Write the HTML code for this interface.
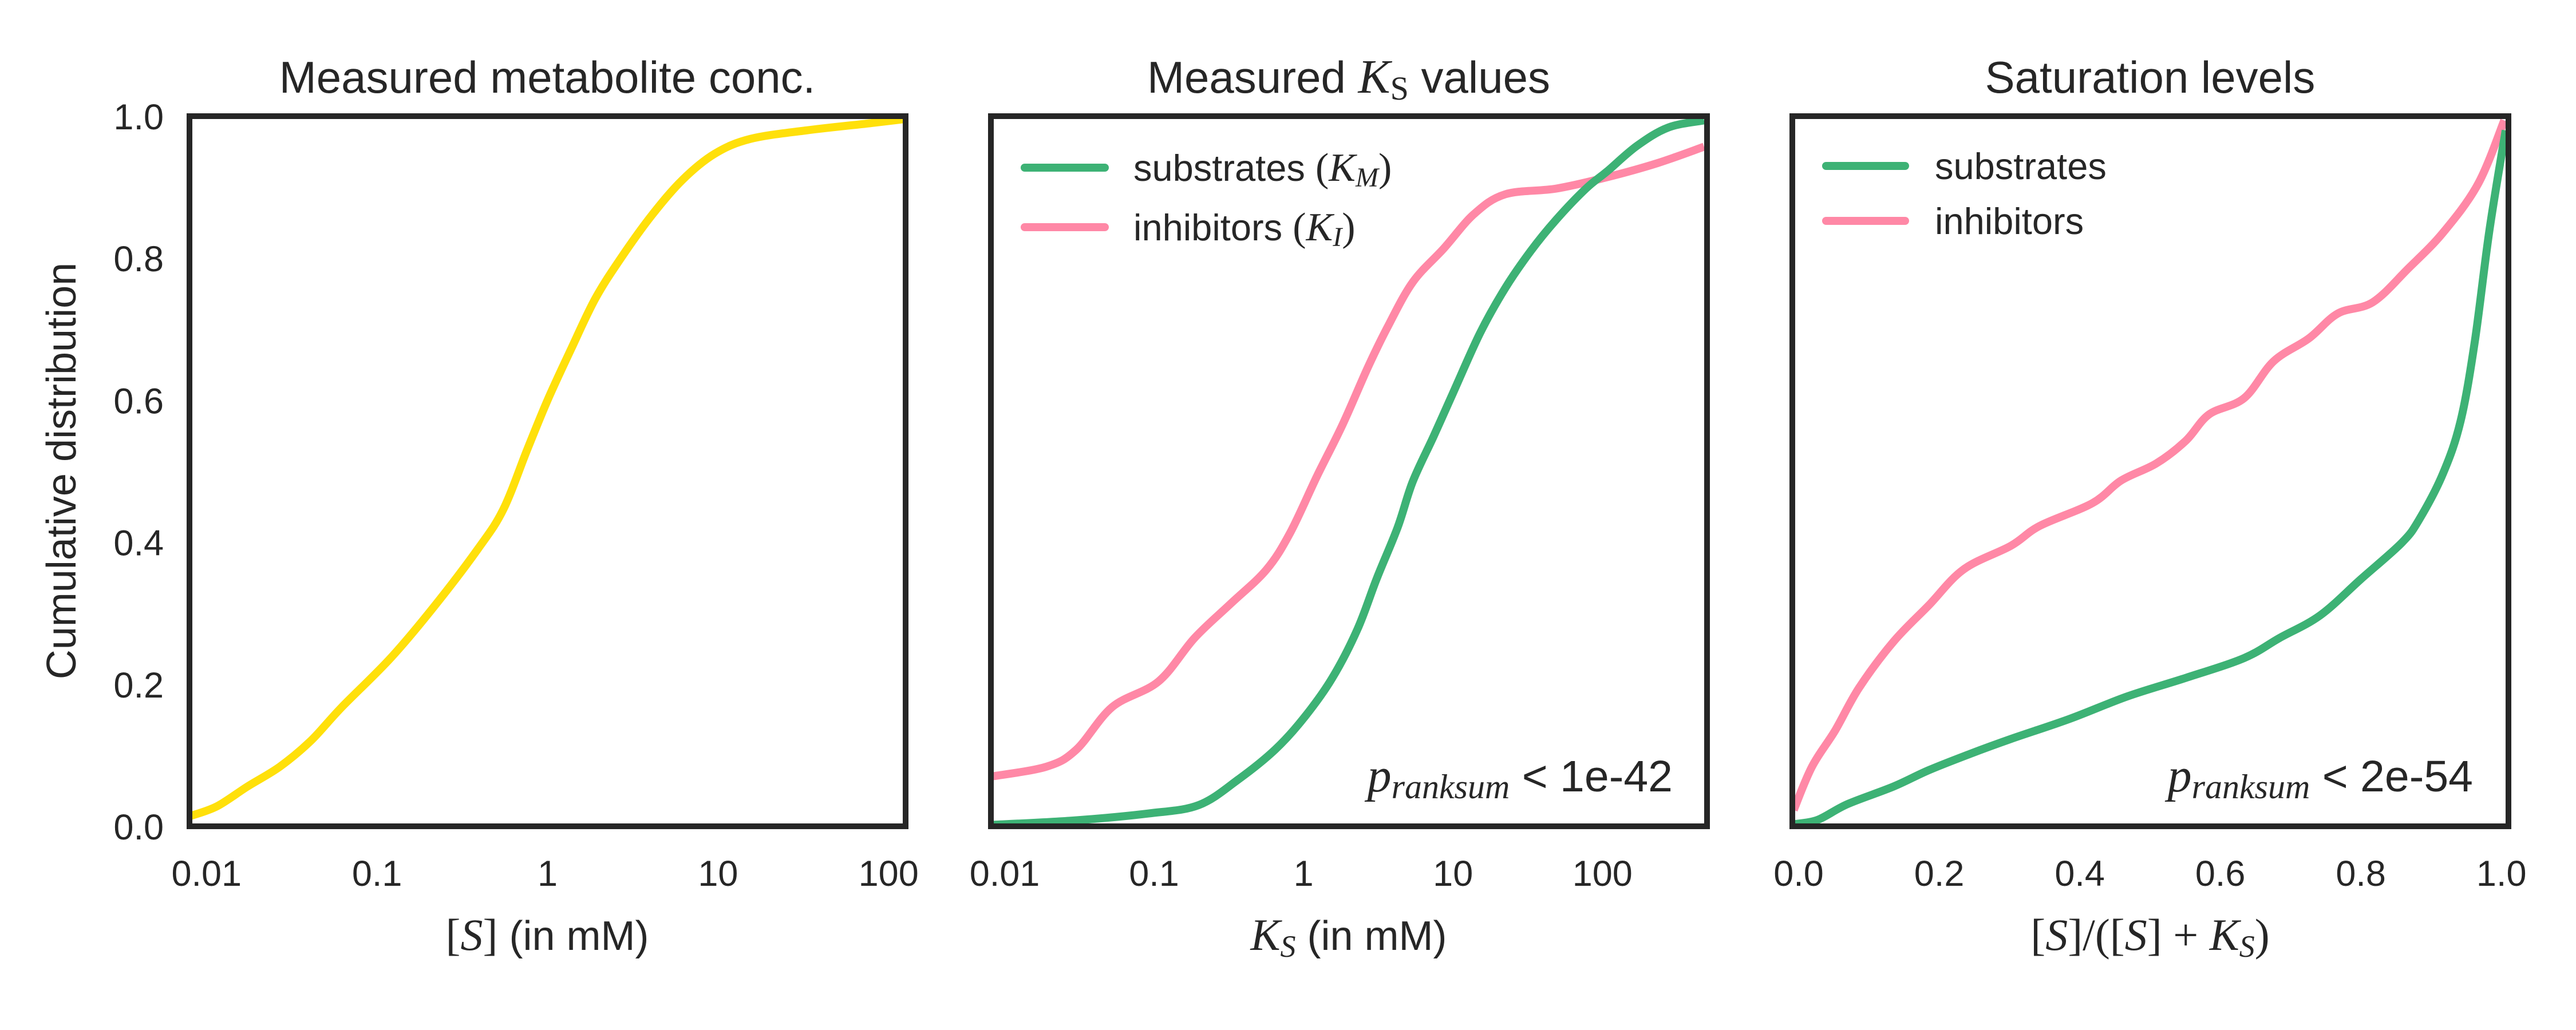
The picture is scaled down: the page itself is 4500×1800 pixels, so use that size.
<!DOCTYPE html>
<html><head><meta charset="utf-8"><style>
html,body{margin:0;padding:0;background:#fff}
svg{display:block}
text{font-family:"Liberation Sans",sans-serif;fill:#262626}
.m{font-family:"Liberation Serif",serif;font-style:italic}
.r{font-family:"Liberation Serif",serif;font-style:normal}
</style></head><body>
<svg id="c" width="4500" height="1800" viewBox="0 0 4500 1800"></svg>
<script>
// Panel 1: measured metabolite concentrations (log10 x, cumulative y)
const concLogX=[-2.1,-1.94,-1.76,-1.57,-1.39,-1.21,-0.92,-0.66,-0.41,-0.26,-0.12,0,0.14,0.28,0.43,0.61,0.79,0.98,1.19,1.52,1.89,2.1];
const concY=[0.014,0.028,0.056,0.084,0.12,0.167,0.237,0.311,0.39,0.446,0.53,0.60,0.673,0.743,0.80,0.86,0.91,0.947,0.968,0.98,0.99,0.996];
// Panel 2: K values
const kmLogX=[-2.09,-1.55,-1.04,-0.70,-0.43,-0.19,0,0.19,0.36,0.49,0.63,0.73,0.87,1.0,1.18,1.35,1.52,1.69,1.89,2.03,2.23,2.44,2.68];
const kmY=[0.002,0.008,0.018,0.03,0.067,0.108,0.152,0.208,0.277,0.349,0.421,0.485,0.549,0.61,0.694,0.758,0.81,0.854,0.898,0.922,0.958,0.984,0.994];
const kiLogX=[-2.09,-1.72,-1.52,-1.28,-0.97,-0.73,-0.49,-0.25,-0.09,0.09,0.26,0.43,0.56,0.73,0.94,1.14,1.35,1.69,2.03,2.37,2.68];
const kiY=[0.07,0.084,0.108,0.168,0.204,0.265,0.313,0.361,0.413,0.493,0.565,0.646,0.702,0.766,0.814,0.862,0.89,0.898,0.914,0.934,0.957];
// Panel 3: saturation
const satSubX=[-0.007,0.027,0.069,0.135,0.185,0.244,0.302,0.385,0.468,0.551,0.634,0.684,0.742,0.8,0.858,0.883,0.917,0.942,0.962,0.983,1.006];
const satSubY=[0.003,0.009,0.031,0.056,0.079,0.102,0.123,0.151,0.183,0.209,0.237,0.265,0.297,0.348,0.399,0.432,0.497,0.571,0.682,0.84,0.98];
const satInhX=[-0.007,0.019,0.052,0.086,0.135,0.185,0.235,0.302,0.343,0.418,0.459,0.509,0.551,0.584,0.634,0.676,0.726,0.767,0.817,0.867,0.917,0.967,1.004];
const satInhY=[0.023,0.084,0.135,0.195,0.26,0.311,0.362,0.395,0.423,0.455,0.487,0.511,0.543,0.58,0.603,0.655,0.687,0.722,0.738,0.785,0.836,0.905,0.994];
const logTicks=[-2,-1,0,1,2];
const logTickLabels=["0.01","0.1","1","10","100"];
const linTicks=[0,0.2,0.4,0.6,0.8,1.0];
const linTickLabels=["0.0","0.2","0.4","0.6","0.8","1.0"];

const NS="http://www.w3.org/2000/svg";
const svg=document.getElementById('c');
function mk(tag,attrs,parent){const e=document.createElementNS(NS,tag);for(const k in attrs)e.setAttribute(k,attrs[k]);(parent||svg).appendChild(e);return e;}
const T=203,B=1444,W=1251;
function yS(v){return B-v*(B-T);}
const panels=[
 {L:331,xmin:-2.1,xmax:2.1},
 {L:1731,xmin:-2.092,xmax:2.70},
 {L:3131,xmin:-0.009,xmax:1.01}
];
panels.forEach(p=>{p.x=v=>p.L+(v-p.xmin)/(p.xmax-p.xmin)*W;});
const GREEN="#3db275",PINK="#ff88a6",YEL="#ffe00a";
[0,1,2].forEach(i=>{const c=mk('clipPath',{id:'cp'+i});mk('rect',{x:panels[i].L,y:T,width:W,height:B-T},c);});
function group(i){return mk('g',{'clip-path':'url(#cp'+i+')'});}
function smooth(pts){
  let d='M'+pts[0][0].toFixed(1)+','+pts[0][1].toFixed(1);
  for(let i=0;i<pts.length-1;i++){
    const p0=pts[Math.max(0,i-1)],p1=pts[i],p2=pts[i+1],p3=pts[Math.min(pts.length-1,i+2)];
    const c1=[p1[0]+(p2[0]-p0[0])/6,p1[1]+(p2[1]-p0[1])/6];
    const c2=[p2[0]-(p3[0]-p1[0])/6,p2[1]-(p3[1]-p1[1])/6];
    d+=' C'+c1[0].toFixed(1)+','+c1[1].toFixed(1)+' '+c2[0].toFixed(1)+','+c2[1].toFixed(1)+' '+p2[0].toFixed(1)+','+p2[1].toFixed(1);
  }
  return d;
}
function linein(g,p,xs,ys,col,name){
  const pts=xs.map((x,i)=>[p.x(x),yS(ys[i])]);
  const e=mk('path',{d:smooth(pts),fill:'none',stroke:col,'stroke-width':14,'stroke-linejoin':'round'},g);
  
  
}
let g=group(0);linein(g,panels[0],concLogX,concY,YEL,'metabolite-conc-line');
g=group(1);linein(g,panels[1],kiLogX,kiY,PINK,'inhibitors-ki-line');linein(g,panels[1],kmLogX,kmY,GREEN,'substrates-km-line');
g=group(2);linein(g,panels[2],satInhX,satInhY,PINK,'inhibitors-saturation-line');linein(g,panels[2],satSubX,satSubY,GREEN,'substrates-saturation-line');

panels.forEach((p,i)=>{
  const f=mk('rect',{x:p.L,y:T,width:W,height:B-T,fill:'none',stroke:'#262626','stroke-width':10});
  
  
  const ticks=i<2?logTicks:linTicks, labs=i<2?logTickLabels:linTickLabels;
  ticks.forEach((t,j)=>{
    const e=mk('text',{x:p.x(t),y:1548,'font-size':63,'text-anchor':'middle'});
    e.textContent=labs[j];
    
    
  });
});
linTicks.forEach((t,j)=>{
  const e=mk('text',{x:286,y:yS(t)+23,'font-size':63,'text-anchor':'end'});
  e.textContent=linTickLabels[j];
  
  
});
</script>
<script>
const s2=document.getElementById('c');
s2.insertAdjacentHTML('beforeend',`
<text x="956" y="162" font-size="78" text-anchor="middle">Measured metabolite conc.</text>
<text x="2356" y="162" font-size="78" text-anchor="middle">Measured <tspan class="m" font-size="84">K</tspan><tspan class="r" font-size="58" dy="12">S</tspan><tspan dy="-12"> values</tspan></text>
<text x="3756" y="162" font-size="78" text-anchor="middle">Saturation levels</text>
<text transform="translate(132,823) rotate(-90)" font-size="72" text-anchor="middle">Cumulative distribution</text>
<text x="956" y="1660" font-size="72" text-anchor="middle"><tspan class="r" font-size="78">[</tspan><tspan class="m" font-size="78">S</tspan><tspan class="r" font-size="78">]</tspan> (in mM)</text>
<text x="2356" y="1660" font-size="72" text-anchor="middle"><tspan class="m" font-size="78">K</tspan><tspan class="m" font-size="54" dy="12">S</tspan><tspan dy="-12"> (in mM)</tspan></text>
<text x="3756" y="1660" font-size="78" text-anchor="middle" class="r">[<tspan class="m">S</tspan>]/([<tspan class="m">S</tspan>] + <tspan class="m">K</tspan><tspan class="m" font-size="54" dy="12">S</tspan><tspan dy="-12">)</tspan></text>
<g>
<line x1="1790" y1="293" x2="1930" y2="293" stroke="#3db275" stroke-width="14" stroke-linecap="round"/>
<text x="1980" y="316" font-size="65">substrates <tspan class="r" font-size="70">(</tspan><tspan class="m" font-size="70">K</tspan><tspan class="m" font-size="48" dy="10">M</tspan><tspan class="r" font-size="70" dy="-10">)</tspan></text>
<line x1="1790" y1="397" x2="1930" y2="397" stroke="#ff88a6" stroke-width="14" stroke-linecap="round"/>
<text x="1980" y="420" font-size="65">inhibitors <tspan class="r" font-size="70">(</tspan><tspan class="m" font-size="70">K</tspan><tspan class="m" font-size="48" dy="10">I</tspan><tspan class="r" font-size="70" dy="-10">)</tspan></text>
</g>
<g>
<line x1="3190" y1="290" x2="3328" y2="290" stroke="#3db275" stroke-width="14" stroke-linecap="round"/>
<text x="3380" y="313" font-size="65">substrates</text>
<line x1="3190" y1="386" x2="3328" y2="386" stroke="#ff88a6" stroke-width="14" stroke-linecap="round"/>
<text x="3380" y="409" font-size="65">inhibitors</text>
</g>
<text x="2922" y="1383" font-size="77" text-anchor="end"><tspan class="m" font-size="84">p</tspan><tspan class="m" font-size="60" dy="12">ranksum</tspan><tspan dy="-12"> &lt; 1e-42</tspan></text>
<text x="4320" y="1383" font-size="77" text-anchor="end"><tspan class="m" font-size="84">p</tspan><tspan class="m" font-size="60" dy="12">ranksum</tspan><tspan dy="-12"> &lt; 2e-54</tspan></text>
`);
</script>
</body></html>
